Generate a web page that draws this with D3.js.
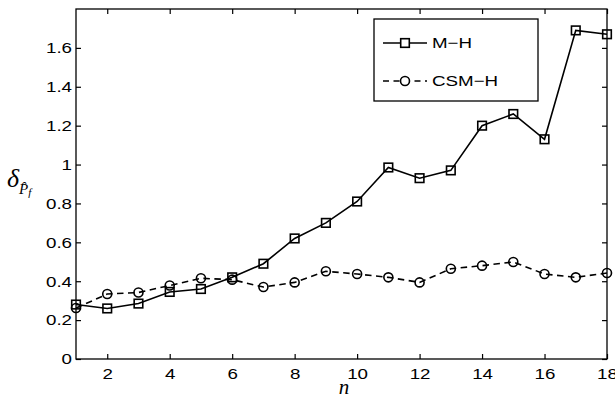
<!DOCTYPE html>
<html>
<head>
<meta charset="utf-8">
<script src="https://cdn.jsdelivr.net/npm/d3@7"></script>
<style>
  body { margin: 0; background: #fff; }
  svg { display: block; }
</style>
</head>
<body>
<div id="chart"></div>
<script>
const W = 615, H = 404;
const margin = {top: 9, right: 8, bottom: 45, left: 76};
const width = W - margin.left - margin.right;
const height = H - margin.top - margin.bottom;

// data
const nValues = [1, 2, 3, 4, 5, 6, 7, 8, 9, 10, 11, 12, 13, 14, 15, 16, 17, 18];
const mh = [0.28, 0.26, 0.285, 0.345, 0.36, 0.42, 0.49, 0.62, 0.70, 0.81, 0.985, 0.93, 0.97, 1.20, 1.26, 1.13, 1.69, 1.67];
const csmh = [0.262, 0.334, 0.342, 0.378, 0.415, 0.408, 0.37, 0.394, 0.451, 0.437, 0.42, 0.394, 0.464, 0.48, 0.499, 0.437, 0.42, 0.442];
const xTicks = [2, 4, 6, 8, 10, 12, 14, 16, 18];
const yTicks = [0, 0.2, 0.4, 0.6, 0.8, 1, 1.2, 1.4, 1.6];
const seriesNames = ['M\u2212H', 'CSM\u2212H'];

// the original picture is stretched sideways, so text is widened too
const sx = 1.25;

const svg = d3.select('#chart')
    .append('svg')
    .attr('width', W)
    .attr('height', H);

const g = svg.append('g')
    .attr('transform', `translate(${margin.left},${margin.top})`);

const x = d3.scaleLinear().domain([1, 18]).range([0, width]);
const y = d3.scaleLinear().domain([0, 1.8]).range([height, 0]);

const font = 'Liberation Sans, Arial, Helvetica, sans-serif';

// axes: MATLAB-style box with inward ticks
g.append('g')
    .attr('transform', `translate(0,${height})`)
    .call(d3.axisBottom(x).tickValues(xTicks).tickSizeInner(-5).tickSizeOuter(0).tickPadding(9))
    .call(a => a.select('.domain').remove())
    .call(a => a.selectAll('line').attr('stroke-width', 1.2))
    .call(a => a.selectAll('text')
        .attr('font-size', 15).attr('font-family', font).attr('fill', '#000')
        .attr('transform', `scale(${sx},1)`));

g.append('g')
    .call(d3.axisLeft(y).tickValues(yTicks).tickFormat(d => d3.format('')(d)).tickSizeInner(-5).tickSizeOuter(0))
    .call(a => a.select('.domain').remove())
    .call(a => a.selectAll('line').attr('stroke-width', 1.2))
    .call(a => a.selectAll('text')
        .attr('font-size', 15).attr('font-family', font).attr('fill', '#000')
        .attr('x', -4 / sx)
        .attr('transform', `scale(${sx},1)`));

// mirrored ticks on top and right
g.append('g')
    .call(d3.axisTop(x).tickValues(xTicks).tickSizeInner(-5).tickSizeOuter(0).tickFormat(''))
    .call(a => a.select('.domain').remove())
    .call(a => a.selectAll('line').attr('stroke-width', 1.2));
g.append('g')
    .attr('transform', `translate(${width},0)`)
    .call(d3.axisRight(y).tickValues(yTicks).tickSizeInner(-5).tickSizeOuter(0).tickFormat(''))
    .call(a => a.select('.domain').remove())
    .call(a => a.selectAll('line').attr('stroke-width', 1.2));

g.append('rect')
    .attr('width', width)
    .attr('height', height)
    .attr('fill', 'none')
    .attr('stroke', '#000')
    .attr('stroke-width', 1.3);

const line = d3.line()
    .x((d, i) => x(nValues[i]))
    .y(d => y(d));

// M-H solid with squares
g.append('path')
    .datum(mh)
    .attr('d', line)
    .attr('fill', 'none')
    .attr('stroke', '#000')
    .attr('stroke-width', 1.6);

// CSM-H dashed with circles
g.append('path')
    .datum(csmh)
    .attr('d', line)
    .attr('fill', 'none')
    .attr('stroke', '#000')
    .attr('stroke-width', 1.6)
    .attr('stroke-dasharray', '6.5,4.5');

g.selectAll('.circ')
    .data(csmh)
    .join('circle')
    .attr('cx', (d, i) => x(nValues[i]))
    .attr('cy', d => y(d))
    .attr('r', 4.5)
    .attr('fill', 'none')
    .attr('stroke', '#000')
    .attr('stroke-width', 1.6);

g.selectAll('.sq')
    .data(mh)
    .join('rect')
    .attr('x', (d, i) => x(nValues[i]) - 4.3)
    .attr('y', d => y(d) - 4.3)
    .attr('width', 8.6)
    .attr('height', 8.6)
    .attr('fill', 'none')
    .attr('stroke', '#000')
    .attr('stroke-width', 1.6);

// legend
const legend = svg.append('g').attr('transform', 'translate(374,19)');
legend.append('rect')
    .attr('width', 164)
    .attr('height', 82)
    .attr('fill', '#fff')
    .attr('stroke', '#000')
    .attr('stroke-width', 1.3);

const rowY = [24, 62];
legend.append('line')
    .attr('x1', 9).attr('x2', 53).attr('y1', rowY[0]).attr('y2', rowY[0])
    .attr('stroke', '#000').attr('stroke-width', 1.6);
legend.append('rect')
    .attr('x', 31 - 4.3).attr('y', rowY[0] - 4.3).attr('width', 8.6).attr('height', 8.6)
    .attr('fill', '#fff').attr('stroke', '#000').attr('stroke-width', 1.6);
legend.append('line')
    .attr('x1', 9).attr('x2', 53).attr('y1', rowY[1]).attr('y2', rowY[1])
    .attr('stroke', '#000').attr('stroke-width', 1.6).attr('stroke-dasharray', '6,4.5');
legend.append('circle')
    .attr('cx', 31).attr('cy', rowY[1]).attr('r', 4.5)
    .attr('fill', '#fff').attr('stroke', '#000').attr('stroke-width', 1.6);

legend.selectAll('.lbl')
    .data(seriesNames)
    .join('text')
    .attr('x', 58 / sx)
    .attr('y', (d, i) => rowY[i])
    .attr('dy', '0.36em')
    .attr('font-size', 15)
    .attr('font-family', font)
    .attr('transform', `scale(${sx},1)`)
    .text(d => d);

// axis labels
svg.append('text')
    .attr('x', 344)
    .attr('y', 394)
    .attr('text-anchor', 'middle')
    .attr('font-family', 'Liberation Serif, Times New Roman, serif')
    .attr('font-style', 'italic')
    .attr('font-size', 21)
    .text('n');

const ylab = svg.append('text')
    .attr('x', 7)
    .attr('y', 187)
    .attr('font-family', 'Liberation Serif, Times New Roman, serif')
    .attr('font-style', 'italic')
    .attr('font-size', 26);
ylab.append('tspan').text('\u03B4');
ylab.append('tspan')
    .attr('font-size', 15)
    .attr('dy', 7)
    .text('P\u0302');
ylab.append('tspan')
    .attr('font-size', 11)
    .attr('dy', 2)
    .text('f');
</script>
</body>
</html>
